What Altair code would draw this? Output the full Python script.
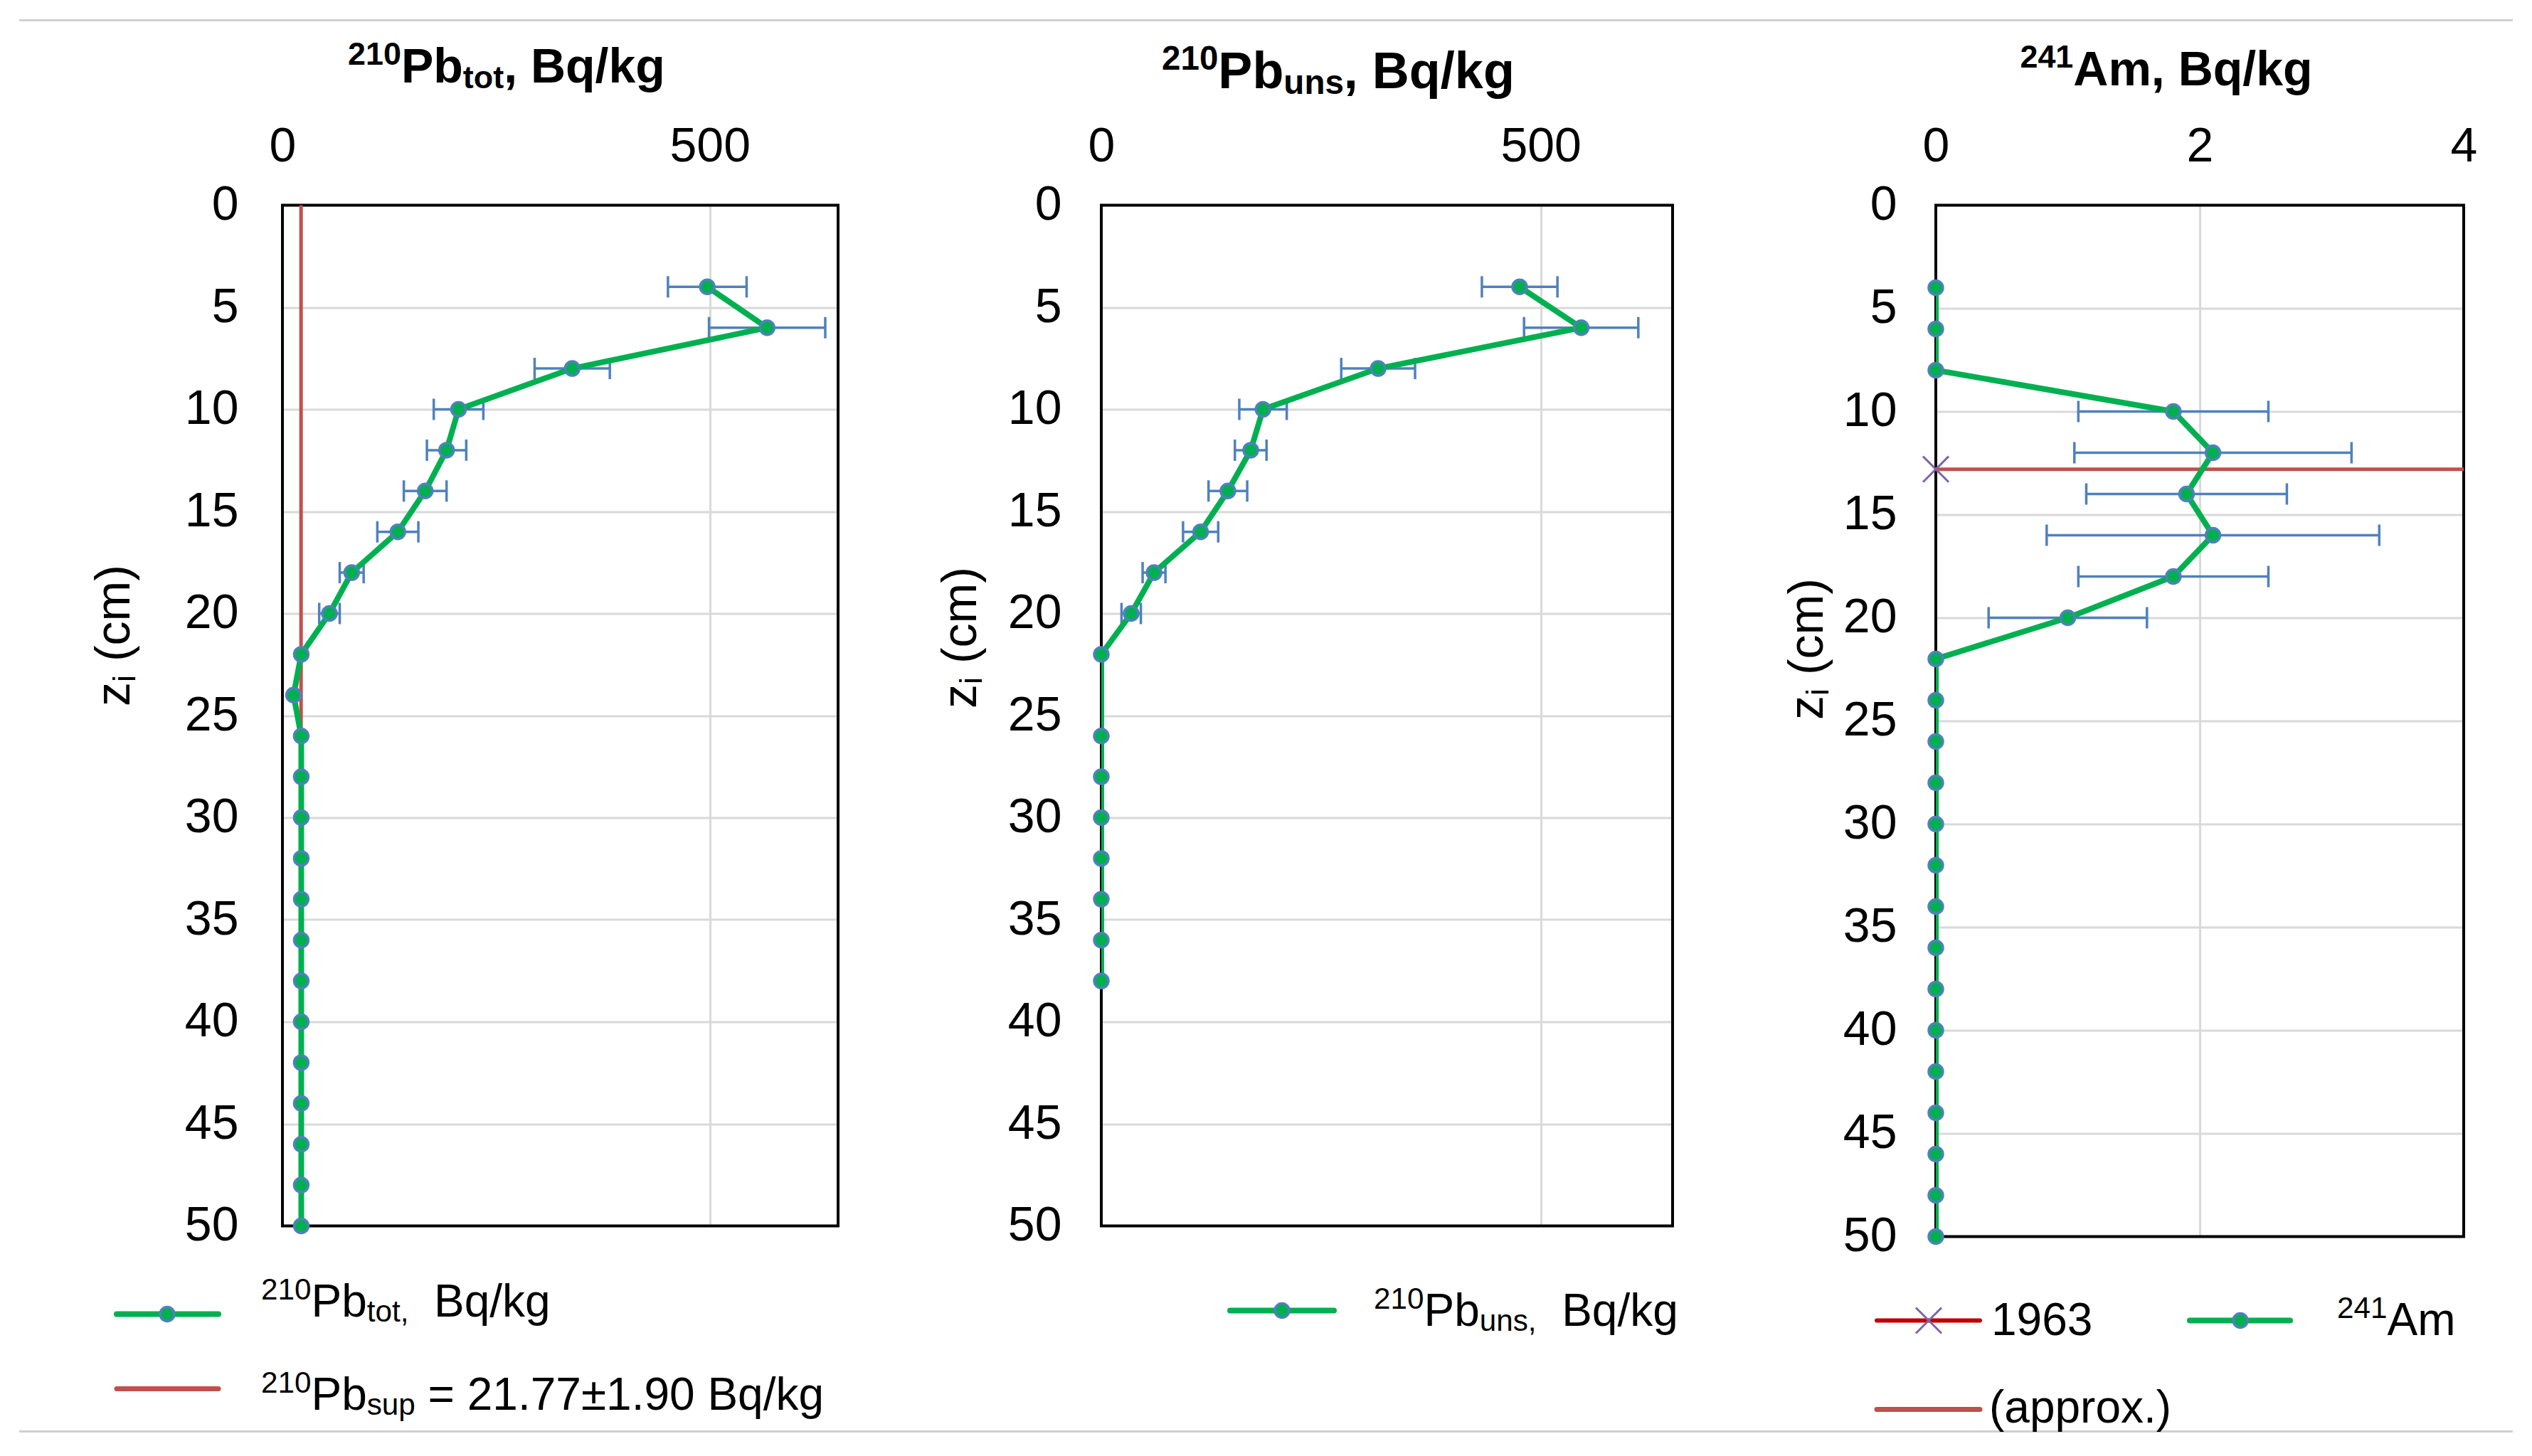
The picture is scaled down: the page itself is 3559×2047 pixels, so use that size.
import altair as alt
import pandas as pd

# ---------------- data ----------------
depth_a = list(range(4, 52, 2))
pb_tot = [497, 567, 339, 206, 192, 167, 135, 81, 55, 22, 13] + [22] * 13
pb_tot_err_depth = [4, 6, 8, 10, 12, 14, 16, 18, 20]
pb_tot_err = [46, 68, 44, 29, 23, 25, 24, 14, 12]
pb_sup = 21.77

depth_b = [4, 6, 8, 10, 12, 14, 16, 18, 20, 22, 26, 28, 30, 32, 34, 36, 38]
pb_uns = [476, 546, 315, 184, 170, 144, 113, 60, 34, 0, 0, 0, 0, 0, 0, 0, 0]
pb_uns_err_depth = [4, 6, 8, 10, 12, 14, 16, 18, 20]
pb_uns_err = [43, 65, 42, 27, 18, 22, 20, 13, 11]

depth_c = list(range(4, 52, 2))
am = [0, 0, 0, 1.8, 2.1, 1.9, 2.1, 1.8, 1.0] + [0] * 15
am_err_depth = [10, 12, 14, 16, 18, 20]
am_err = [0.72, 1.05, 0.76, 1.26, 0.72, 0.60]
depth_1963 = 12.8

# text pieces: (text, kind) with kind n = normal, sup = superscript, sub = subscript
title_a = [("210", "sup"), ("Pb", "n"), ("tot", "sub"), (", Bq/kg", "n")]
title_b = [("210", "sup"), ("Pb", "n"), ("uns", "sub"), (", Bq/kg", "n")]
title_c = [("241", "sup"), ("Am, Bq/kg", "n")]
y_title = [("z", "n"), ("i", "sub"), (" (cm)", "n")]
leg_a1 = [("210", "sup"), ("Pb", "n"), ("tot,", "sub"), ("  Bq/kg", "n")]
leg_a2 = [("210", "sup"), ("Pb", "n"), ("sup", "sub"), (" = 21.77±1.90 Bq/kg", "n")]
leg_b1 = [("210", "sup"), ("Pb", "n"), ("uns,", "sub"), ("  Bq/kg", "n")]
leg_c1 = [("1963", "n")]
leg_c2 = [("241", "sup"), ("Am", "n")]
leg_c3 = [("(approx.)", "n")]

# ---------------- style ----------------
FONT = "Liberation Sans"
GREEN = "#00B050"
BLUE = "#4F81BD"
RED = "#C0504D"
DARKRED = "#C00000"
PURPLE = "#8064A2"
GRID = "#D9D9D9"
FS_LAB = 68
FS_LEG = 64
FS_TITLE = 68
FS_YT = 68
SUBF, SUPR, SUBD = 0.66, 0.36, 0.12

# Liberation Sans (Arial metrics) advance widths, 1/1000 em
WR = {" ": 278, "(": 333, ")": 333, ",": 278, ".": 278, "/": 278, "=": 584,
      "±": 549, "A": 667, "B": 667, "P": 667, "a": 556, "b": 556, "c": 500, "g": 556,
      "i": 222, "k": 500, "m": 833, "n": 556, "o": 556, "p": 556, "q": 556, "r": 333,
      "s": 500, "t": 278, "u": 556, "x": 500, "z": 500}
WB = {" ": 278, ",": 278, "/": 278, "A": 722, "B": 722, "P": 667, "b": 611,
      "g": 611, "k": 556, "m": 889, "n": 611, "o": 611, "q": 611, "s": 556, "t": 333,
      "u": 611}
for d in "0123456789":
    WR[d] = 556
    WB[d] = 556

one = pd.DataFrame({"k": [0]})


def rich(segs, x, y, size, bold=False, align="left", angle=0):
    tbl = WB if bold else WR
    pieces = []
    for t, k in segs:
        fs = size if k == "n" else size * SUBF
        off = 0 if k == "n" else (-SUPR * size if k == "sup" else SUBD * size)
        lead = len(t) - len(t.lstrip(" "))
        core = t.strip(" ")
        trail = len(t) - lead - len(core)
        sp = tbl[" "] * fs / 1000
        w = sum(tbl.get(c, 556) for c in core) * fs / 1000
        pieces.append((core, fs, off, lead * sp, w, trail * sp))
    total = sum(p[3] + p[4] + p[5] for p in pieces)
    pos = -total / 2 if align == "center" else 0
    layers = []
    for t, fs, off, lw, w, tw in pieces:
        pos += lw
        if angle == 0:
            px, py = x + pos, y + off
        else:
            px, py = x + off, y - pos
        layers.append(
            alt.Chart(one).mark_text(
                align="left", baseline="alphabetic", fontSize=fs, font=FONT,
                fontWeight="bold" if bold else "normal", color="black", angle=angle
            ).encode(x=alt.value(px), y=alt.value(py), text=alt.value(t))
        )
        pos += w + tw
    return layers


def make_x(domain, values):
    sc = alt.Scale(domain=domain, nice=False, zero=False)
    ax = alt.Axis(
        orient="top", values=values, title=None, grid=True, gridColor=GRID,
        gridWidth=3, domain=False, ticks=False, tickSize=0, labelFontSize=FS_LAB,
        labelFont=FONT, labelColor="black", labelPadding=48, labelFlush=False,
        labelOverlap=False,
    )
    return sc, ax


def make_y(lab_pad):
    sc = alt.Scale(domain=[0, 50], reverse=True, nice=False, zero=False)
    ax = alt.Axis(
        orient="left", values=list(range(0, 55, 5)), title=None, grid=True,
        gridColor=GRID, gridWidth=3, domain=False, ticks=False, tickSize=0,
        labelFontSize=FS_LAB, labelFont=FONT, labelColor="black",
        labelPadding=lab_pad, labelOverlap=False,
    )
    return sc, ax


def base_layers(df, err_df, W, H, xdomain, xvalues, lab_pad):
    xs, xa = make_x(xdomain, xvalues)
    ys, ya = make_y(lab_pad)

    def X(field):
        return alt.X(field, scale=xs, axis=xa)

    def Y(field="depth:Q"):
        return alt.Y(field, scale=ys, axis=ya)

    border = alt.Chart(one).mark_rect(fill="transparent", stroke="black", strokeWidth=4).encode(
        x=alt.value(0), x2=alt.value(W), y=alt.value(0), y2=alt.value(H)
    )
    err_rule = alt.Chart(err_df).mark_rule(color=BLUE, strokeWidth=3.5).encode(
        x=X("lo:Q"), x2="hi:Q", y=Y()
    )
    cap_lo = alt.Chart(err_df).mark_tick(orient="vertical", size=30, thickness=3.5, color=BLUE, opacity=1).encode(
        x=X("lo:Q"), y=Y()
    )
    cap_hi = alt.Chart(err_df).mark_tick(orient="vertical", size=30, thickness=3.5, color=BLUE, opacity=1).encode(
        x=X("hi:Q"), y=Y()
    )
    line = alt.Chart(df).mark_line(color=GREEN, strokeWidth=8, clip=True).encode(
        x=X("v:Q"), y=Y(), order=alt.Order("depth:Q")
    )
    pts = alt.Chart(df).mark_point(
        shape="circle", filled=True, fill=GREEN, stroke=BLUE, strokeWidth=3.5,
        size=400, opacity=1
    ).encode(x=X("v:Q"), y=Y())
    return X, Y, border, [err_rule, cap_lo, cap_hi, line, pts]


def legend_line(x1, x2, y, color, width=7):
    return alt.Chart(one).mark_rule(color=color, strokeWidth=width, strokeCap="round").encode(
        x=alt.value(x1), x2=alt.value(x2), y=alt.value(y)
    )


def legend_dot(x, y):
    return alt.Chart(one).mark_point(
        shape="circle", filled=True, fill=GREEN, stroke=BLUE, strokeWidth=3.5, size=400, opacity=1
    ).encode(x=alt.value(x), y=alt.value(y))


# ---------------- panel a ----------------
WA, HA = 781, 1435
LA = 395
df_a = pd.DataFrame({"depth": depth_a, "v": pb_tot})
err_a = pd.DataFrame({
    "depth": pb_tot_err_depth,
    "lo": [pb_tot[depth_a.index(d)] - e for d, e in zip(pb_tot_err_depth, pb_tot_err)],
    "hi": [pb_tot[depth_a.index(d)] + e for d, e in zip(pb_tot_err_depth, pb_tot_err)],
})
XA, YA, border_a, data_a = base_layers(df_a, err_a, WA, HA, [0, 650], [0, 500], 62)
sup_df = pd.DataFrame({"v": [pb_sup], "depth": [0], "d2": [50]})
sup_rule = alt.Chart(sup_df).mark_rule(color=RED, strokeWidth=5).encode(x=XA("v:Q"), y=YA(), y2="d2:Q")

frame_top = alt.Chart(one).mark_rule(color="#D0D0D0", strokeWidth=3).encode(
    x=alt.value(25 - LA), x2=alt.value(3530 - LA), y=alt.value(-260)
)
frame_bot = alt.Chart(one).mark_rule(color="#D0D0D0", strokeWidth=3).encode(
    x=alt.value(25 - LA), x2=alt.value(3530 - LA), y=alt.value(1724)
)

panel_a = alt.layer(
    border_a, sup_rule, *data_a,
    legend_line(-233, -90, 1559, GREEN, 8), legend_dot(-162, 1559),
    *rich(leg_a1, -30, 1562, FS_LEG),
    legend_line(-233, -90, 1664, RED, 7),
    *rich(leg_a2, -30, 1693, FS_LEG),
    *rich(title_a, 315, -173, FS_TITLE, bold=True, align="center"),
    *rich(y_title, -215, 605, FS_YT, align="center", angle=270),
    frame_top, frame_bot,
).properties(width=WA, height=HA)

# ---------------- panel b ----------------
WB_, HB_ = 803, 1435
df_b = pd.DataFrame({"depth": depth_b, "v": pb_uns})
err_b = pd.DataFrame({
    "depth": pb_uns_err_depth,
    "lo": [pb_uns[depth_b.index(d)] - e for d, e in zip(pb_uns_err_depth, pb_uns_err)],
    "hi": [pb_uns[depth_b.index(d)] + e for d, e in zip(pb_uns_err_depth, pb_uns_err)],
})
XB, YB, border_b, data_b = base_layers(df_b, err_b, WB_, HB_, [0, 650], [0, 500], 56)
panel_b = alt.layer(
    border_b, *data_b,
    legend_line(181, 327, 1554, GREEN, 8), legend_dot(254, 1554),
    *rich(leg_b1, 383, 1575, FS_LEG),
    *rich(title_b, 333, -165, 72, bold=True, align="center"),
    *rich(y_title, -176, 608, FS_YT, align="center", angle=270),
).properties(width=WB_, height=HB_)

# ---------------- panel c ----------------
WC, HC = 742, 1450
df_c = pd.DataFrame({"depth": depth_c, "v": am})
err_c = pd.DataFrame({
    "depth": am_err_depth,
    "lo": [am[depth_c.index(d)] - e for d, e in zip(am_err_depth, am_err)],
    "hi": [am[depth_c.index(d)] + e for d, e in zip(am_err_depth, am_err)],
})
XC, YC, border_c, data_c = base_layers(df_c, err_c, WC, HC, [0, 4], [0, 2, 4], 55)
y63 = pd.DataFrame({"v": [0], "v2": [4], "depth": [depth_1963]})
rule63 = alt.Chart(y63).mark_rule(color=RED, strokeWidth=5).encode(x=XC("v:Q"), x2="v2:Q", y=YC())
XPATH = "M-1,-1L1,1M-1,1L1,-1"
mark63 = alt.Chart(y63).mark_point(shape=XPATH, filled=False, stroke=PURPLE, strokeWidth=3, size=1300, opacity=1).encode(
    x=XC("v:Q"), y=YC()
)
leg_x = alt.Chart(one).mark_point(shape=XPATH, filled=False, stroke=PURPLE, strokeWidth=3, size=1300, opacity=1).encode(
    x=alt.value(-10), y=alt.value(1568)
)
panel_c = alt.layer(
    border_c, rule63, *data_c, mark63,
    legend_line(-83, 62, 1568, DARKRED, 6), leg_x, *rich(leg_c1, 78, 1588, FS_LEG),
    legend_line(357, 498, 1568, GREEN, 8), legend_dot(428, 1568), *rich(leg_c2, 564, 1588, FS_LEG),
    legend_line(-83, 62, 1693, RED, 7), *rich(leg_c3, 75, 1711, FS_LEG),
    *rich(title_c, 324, -169, FS_TITLE, bold=True, align="center"),
    *rich(y_title, -159, 624, FS_YT, align="center", angle=270),
).properties(width=WC, height=HC)

chart = alt.hconcat(panel_a, panel_b, panel_c, spacing=370, bounds="flush").properties(
    padding={"left": 17, "top": 18.5, "right": 5, "bottom": 5}
).configure_view(stroke="transparent")

chart.save("out.html", embed_options={"renderer": "svg", "actions": False})
